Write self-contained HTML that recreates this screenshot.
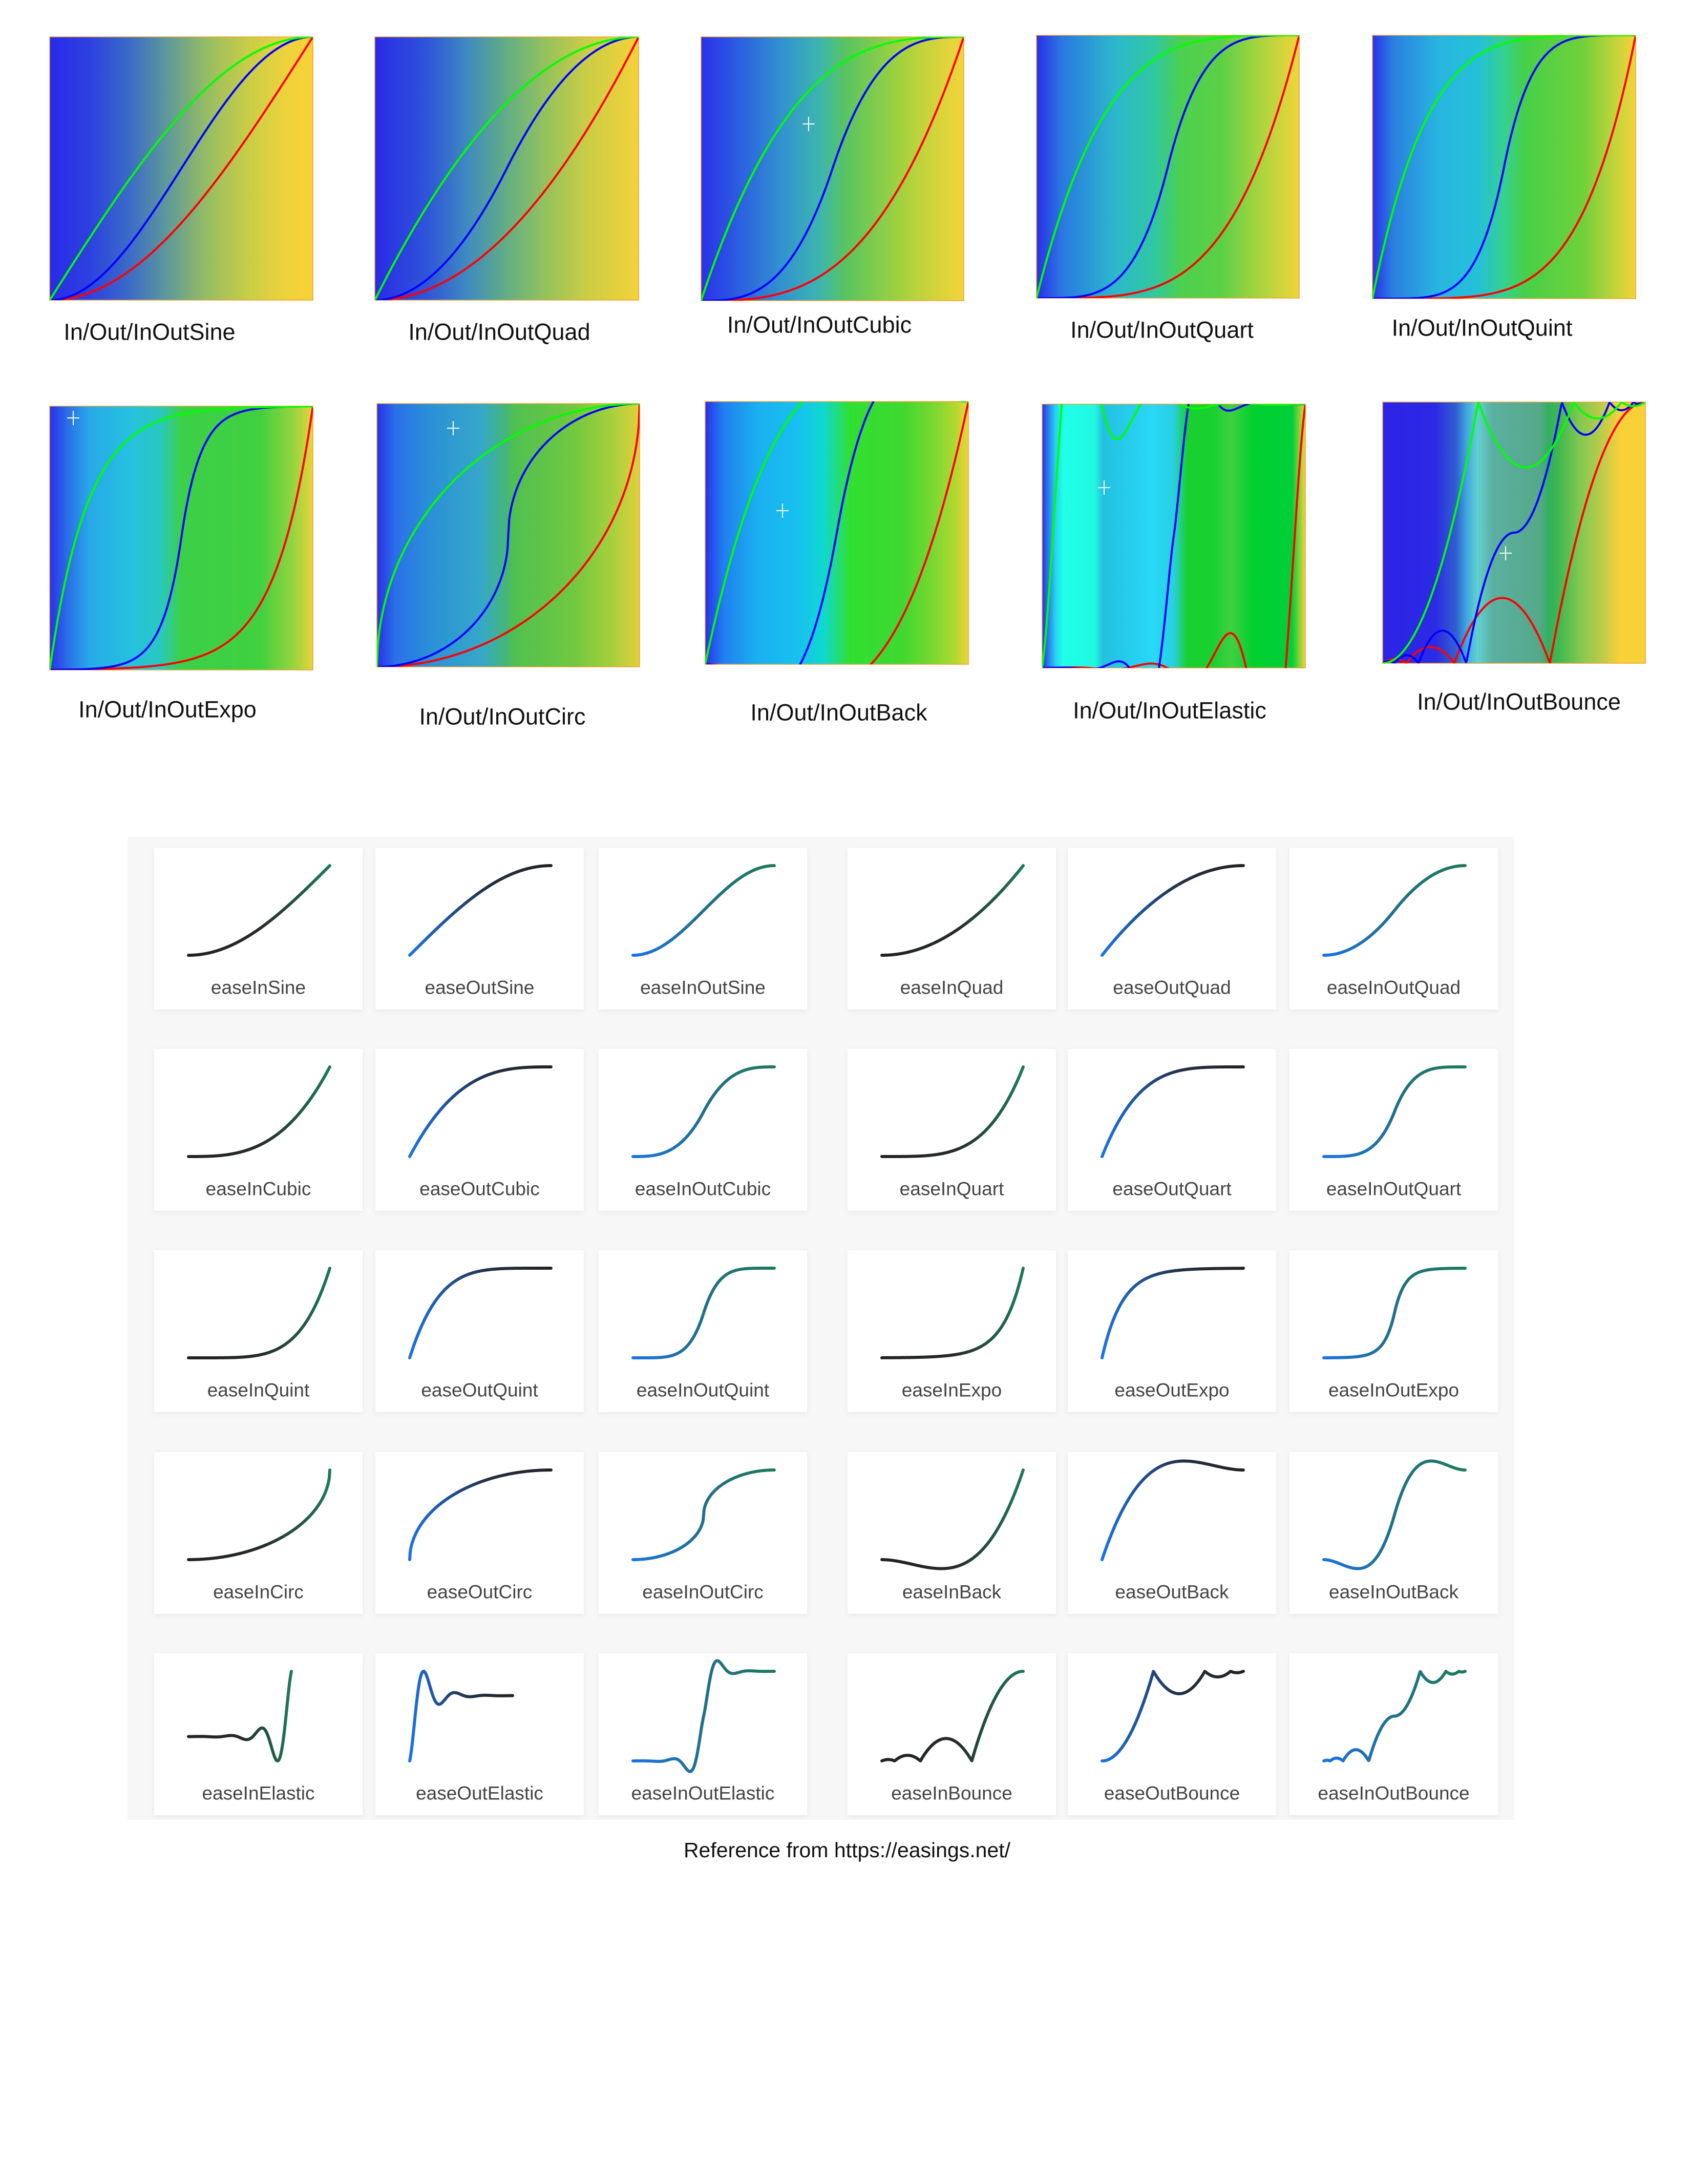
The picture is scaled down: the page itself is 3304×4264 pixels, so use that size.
<!DOCTYPE html>
<html><head><meta charset="utf-8">
<style>
html,body{margin:0;padding:0;background:#fff;}
svg{display:block;}
text{font-family:"Liberation Sans",sans-serif;}
</style></head>
<body>
<svg id="root" width="3304" height="4264" viewBox="0 0 3304 4264" xmlns="http://www.w3.org/2000/svg">
<defs id="defs">
<filter id="cardShadow" x="-5%" y="-5%" width="110%" height="115%">
<feDropShadow dx="0" dy="3" stdDeviation="5" flood-color="#000" flood-opacity="0.06"/>
</filter>
<linearGradient id="gIn" x1="0" y1="0" x2="1" y2="0"><stop offset="0" stop-color="#222"/><stop offset="0.5" stop-color="#262a28"/><stop offset="1" stop-color="#1d7a58"/></linearGradient>
<linearGradient id="gOut" x1="0" y1="0" x2="1" y2="0"><stop offset="0" stop-color="#1a73e8"/><stop offset="0.55" stop-color="#243048"/><stop offset="1" stop-color="#222"/></linearGradient>
<linearGradient id="gInOut" x1="0" y1="0" x2="1" y2="0"><stop offset="0" stop-color="#1a73e8"/><stop offset="0.5" stop-color="#20708a"/><stop offset="1" stop-color="#1d7a58"/></linearGradient>
</defs>
<rect x="249" y="1633" width="2708" height="1920" fill="#f7f7f7"/>
<g id="top"></g>
<g id="cards"></g>
<text x="1654" y="3612" font-size="41" text-anchor="middle" dominant-baseline="central" fill="#111">Reference from https://easings.net/</text>
</svg>
<script>
// ---------- data ----------
const topFamilies = ["Sine","Quad","Cubic","Quart","Quint","Expo","Circ","Back","Elastic","Bounce"];
const topLabels = ["In/Out/InOutSine","In/Out/InOutQuad","In/Out/InOutCubic","In/Out/InOutQuart","In/Out/InOutQuint","In/Out/InOutExpo","In/Out/InOutCirc","In/Out/InOutBack","In/Out/InOutElastic","In/Out/InOutBounce"];
const cardFamilies = ["Sine","Quad","Cubic","Quart","Quint","Expo","Circ","Back","Elastic","Bounce"];
const cardKinds = ["In","Out","InOut"];
const sampleCount = 300;

// ---------- layout ----------
const topBoxes = [
 [97,72,514,514,292,648],[732,72,515,514,975,648],[1369,72,513,515,1600,634],[2024,69,513,513,2269,644],[2680,69,514,514,2894,640],
 [97,793,514,515,327,1385],[736,788,513,514,981,1399],[1377,784,514,513,1638,1391],[2035,789,514,515,2284,1387],[2700,785,513,510,2966,1370]
];
const topGradients = [
 [[0,"#2a2ae8"],[0.15,"#2c40e0"],[0.3,"#3a6ac8"],[0.45,"#5f9a98"],[0.6,"#97bd62"],[0.75,"#c7cd47"],[0.9,"#eed23c"],[1,"#f8d236"]],
 [[0,"#2a2ae8"],[0.2,"#2e55d8"],[0.35,"#3f8ac0"],[0.5,"#62ae84"],[0.65,"#95c25c"],[0.8,"#c9cd45"],[1,"#f5d238"]],
 [[0,"#2a30e8"],[0.15,"#2c60e0"],[0.3,"#3190d0"],[0.45,"#3db5b0"],[0.55,"#58c460"],[0.75,"#9ed23e"],[0.9,"#d6d43a"],[1,"#f0d43a"]],
 [[0,"#2a30e8"],[0.1,"#2a7ae0"],[0.3,"#2cb8cc"],[0.45,"#30c7a0"],[0.55,"#4cd050"],[0.7,"#5ad045"],[0.85,"#a8d43e"],[1,"#f0d43a"]],
 [[0,"#2a30e8"],[0.08,"#2a80e0"],[0.25,"#28b5e0"],[0.4,"#24c0d8"],[0.5,"#35d090"],[0.58,"#45d048"],[0.8,"#70d03a"],[0.93,"#c8d43a"],[1,"#f0d43a"]],
 [[0,"#2a30e8"],[0.07,"#2a70e8"],[0.15,"#28a8e8"],[0.3,"#25c0e0"],[0.42,"#28c8c0"],[0.5,"#3cd048"],[0.8,"#40d040"],[0.92,"#90d43e"],[1,"#e8d43a"]],
 [[0,"#2a30e8"],[0.07,"#2a70e8"],[0.2,"#2a90d8"],[0.4,"#35a8c8"],[0.5,"#45b870"],[0.52,"#50c050"],[0.75,"#70c840"],[0.9,"#a8d03c"],[1,"#e0d03a"]],
 [[0,"#2a30e8"],[0.07,"#2080f0"],[0.2,"#1ab0f0"],[0.35,"#18c0f0"],[0.45,"#10d8d0"],[0.55,"#30e030"],[0.75,"#40d830"],[0.85,"#70d830"],[0.95,"#b0d830"],[1,"#f0d43a"]],
 [[0,"#2a30e8"],[0.05,"#28d0f0"],[0.08,"#20ffe8"],[0.2,"#20f8e0"],[0.23,"#25c0e0"],[0.3,"#25c8e8"],[0.42,"#28d8f8"],[0.5,"#28d0e0"],[0.55,"#18d030"],[0.65,"#18d030"],[0.72,"#40d040"],[0.8,"#00d030"],[0.95,"#00d038"],[1,"#f0d43a"]],
 [[0,"#2c22e8"],[0.2,"#2c2ae4"],[0.28,"#3060d0"],[0.32,"#40a8e0"],[0.36,"#60d0d0"],[0.42,"#5ab0a0"],[0.6,"#55a888"],[0.63,"#30b060"],[0.67,"#40b850"],[0.75,"#80c850"],[0.85,"#c8cc48"],[0.9,"#f8d038"],[1,"#f8d038"]]
];
const crosshairs = [null,null,[1579,242],null,null,[143,816],[885,836],[1528,997],[2156,952],[2940,1080]];
const cardCols = [301,733,1169,1655,2085,2518];
const cardRows = [1655,2048,2441,2835,3228];

// ---------- easing functions ----------
const c1=1.70158,c2=c1*1.525,c3=c1+1,c4=2*Math.PI/3,c5=2*Math.PI/4.5;
function outBounce(x){const n1=7.5625,d1=2.75;
 if(x<1/d1)return n1*x*x; if(x<2/d1)return n1*(x-=1.5/d1)*x+0.75;
 if(x<2.5/d1)return n1*(x-=2.25/d1)*x+0.9375; return n1*(x-=2.625/d1)*x+0.984375;}
const E={
 InSine:x=>1-Math.cos(x*Math.PI/2), OutSine:x=>Math.sin(x*Math.PI/2), InOutSine:x=>-(Math.cos(Math.PI*x)-1)/2,
 InQuad:x=>x*x, OutQuad:x=>1-(1-x)*(1-x), InOutQuad:x=>x<.5?2*x*x:1-Math.pow(-2*x+2,2)/2,
 InCubic:x=>x*x*x, OutCubic:x=>1-Math.pow(1-x,3), InOutCubic:x=>x<.5?4*x*x*x:1-Math.pow(-2*x+2,3)/2,
 InQuart:x=>x**4, OutQuart:x=>1-Math.pow(1-x,4), InOutQuart:x=>x<.5?8*x**4:1-Math.pow(-2*x+2,4)/2,
 InQuint:x=>x**5, OutQuint:x=>1-Math.pow(1-x,5), InOutQuint:x=>x<.5?16*x**5:1-Math.pow(-2*x+2,5)/2,
 InExpo:x=>x===0?0:Math.pow(2,10*x-10), OutExpo:x=>x===1?1:1-Math.pow(2,-10*x),
 InOutExpo:x=>x===0?0:x===1?1:x<.5?Math.pow(2,20*x-10)/2:(2-Math.pow(2,-20*x+10))/2,
 InCirc:x=>1-Math.sqrt(1-x*x), OutCirc:x=>Math.sqrt(1-Math.pow(x-1,2)),
 InOutCirc:x=>x<.5?(1-Math.sqrt(1-Math.pow(2*x,2)))/2:(Math.sqrt(1-Math.pow(-2*x+2,2))+1)/2,
 InBack:x=>c3*x*x*x-c1*x*x, OutBack:x=>1+c3*Math.pow(x-1,3)+c1*Math.pow(x-1,2),
 InOutBack:x=>x<.5?(Math.pow(2*x,2)*((c2+1)*2*x-c2))/2:(Math.pow(2*x-2,2)*((c2+1)*(x*2-2)+c2)+2)/2,
 InElastic:x=>x===0?0:x===1?1:-Math.pow(2,10*x-10)*Math.sin((x*10-10.75)*c4),
 OutElastic:x=>x===0?0:x===1?1:Math.pow(2,-10*x)*Math.sin((x*10-0.75)*c4)+1,
 InOutElastic:x=>x===0?0:x===1?1:x<.5?-(Math.pow(2,20*x-10)*Math.sin((20*x-11.125)*c5))/2:(Math.pow(2,-20*x+10)*Math.sin((20*x-11.125)*c5))/2+1,
 InBounce:x=>1-outBounce(1-x), OutBounce:outBounce,
 InOutBounce:x=>x<.5?(1-outBounce(1-2*x))/2:(1+outBounce(2*x-1))/2
};

const NS="http://www.w3.org/2000/svg";
function mk(tag,attrs,parent){const e=document.createElementNS(NS,tag);for(const k in attrs)e.setAttribute(k,attrs[k]);parent.appendChild(e);return e;}
function pathFor(fn,sx,sy){let d="";for(let i=0;i<=sampleCount;i++){const t=i/sampleCount;const X=sx(t),Y=sy(fn(t));d+=(i?"L":"M")+X.toFixed(2)+" "+Y.toFixed(2);}return d;}

const defs=document.getElementById("defs");
const topG=document.getElementById("top");
const topColors={Out:"#00ff00",InOut:"#0000ff",In:"#ff0000"};

topFamilies.forEach((fam,i)=>{
 const [bx,by,bw,bh,lx,ly]=topBoxes[i];
 const gid="bg"+i;
 const lg=mk("linearGradient",{id:gid,x1:"0",y1:"0",x2:"1",y2:"0"},defs);
 topGradients[i].forEach(s=>mk("stop",{offset:s[0],"stop-color":s[1]},lg));
 const cp=mk("clipPath",{id:"clip"+i},defs);
 mk("rect",{x:bx,y:by,width:bw,height:bh},cp);
 const g=mk("g",{},topG);
 
 
 const bg=mk("rect",{x:bx,y:by,width:bw,height:bh,fill:"url(#"+gid+")",stroke:"#f0a030","stroke-width":"1.5"},g);
 
 
 const sx=t=>bx+t*bw, sy=v=>by+bh-v*bh;
 const cg=mk("g",{"clip-path":"url(#clip"+i+")"},g);
 ["In","InOut","Out"].forEach(k=>{
  const p=mk("path",{d:pathFor(E[k+fam],sx,sy),fill:"none",stroke:topColors[k],"stroke-width":"4","stroke-linejoin":"round"},cg);
  
  
 });
 if(crosshairs[i]){const [cx,cy]=crosshairs[i];
  const ch=mk("path",{d:`M${cx-12} ${cy}H${cx+12}M${cx} ${cy-14}V${cy+14}`,stroke:"#fff","stroke-width":"2"},g);
  
  
 }
 const tx=mk("text",{x:lx,y:ly,"font-size":"45","text-anchor":"middle","dominant-baseline":"central",fill:"#111"},g);
 tx.textContent=topLabels[i];
 
 
});

const cardsG=document.getElementById("cards");
cardFamilies.forEach((fam,fi)=>{
 cardKinds.forEach((k,ki)=>{
  const col=(fi%2)*3+ki, row=Math.floor(fi/2);
  const cx=cardCols[col], cy=cardRows[row];
  const g=mk("g",{},cardsG);
  
  
  mk("rect",{x:cx,y:cy,width:407,height:316,fill:"#fff",filter:"url(#cardShadow)"},g);
  const fn=E[k+fam];
  let left=cx+67,w=276,top=cy+35,h=175,lo=0,hi=1;
  if(fam==="Elastic"&&k!=="InOut"){
   let mn=0,mx=1;for(let i=0;i<=sampleCount;i++){const v=fn(i/sampleCount);mn=Math.min(mn,v);mx=Math.max(mx,v);}
   lo=mn;hi=mx;const sc=1/(mx-mn);w=276*sc;
  }
  const sx=t=>left+t*w, sy=v=>top+h-(v-lo)/(hi-lo)*h;
  const p=mk("path",{d:pathFor(fn,sx,sy),fill:"none",stroke:"url(#g"+k+")","stroke-width":"6","stroke-linecap":"round","stroke-linejoin":"round"},g);
  
  
  const t=mk("text",{x:cx+203.5,y:cy+273,"font-size":"37","text-anchor":"middle","dominant-baseline":"central",fill:"#444"},g);
  t.textContent="ease"+k+fam;
  
  
 });
});
</script>
</body></html>
